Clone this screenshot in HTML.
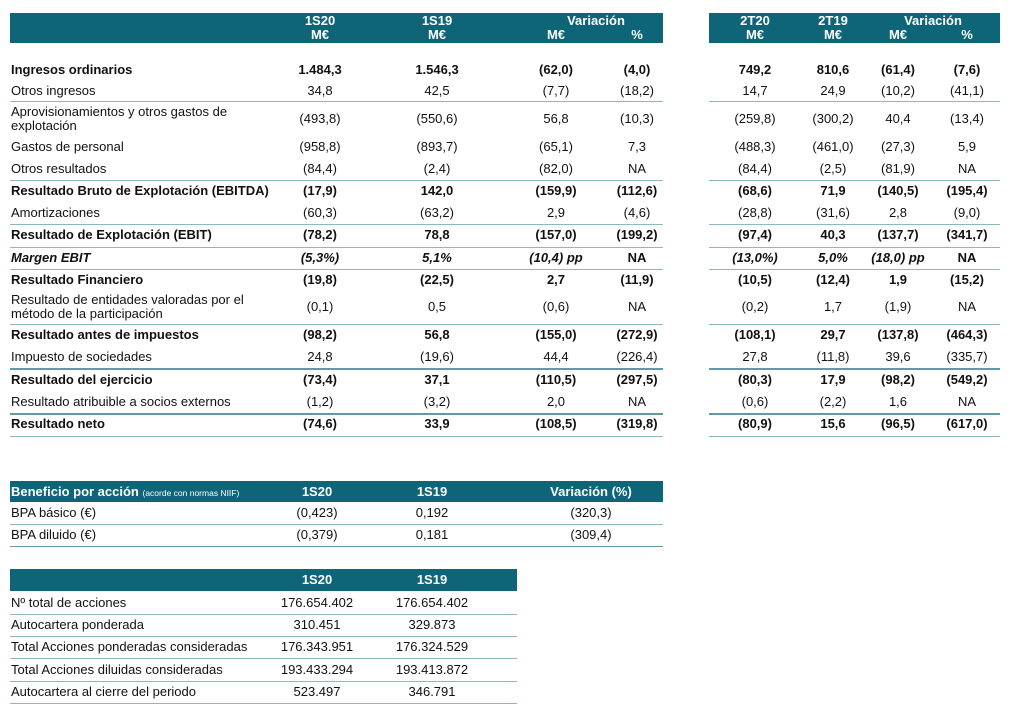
<!DOCTYPE html>
<html><head><meta charset="utf-8"><style>
body{margin:0;width:1011px;height:713px;background:#fff;font-family:"Liberation Sans",Arial,sans-serif;color:#111;position:relative;overflow:hidden}
.h{position:absolute;background:#0e6577;color:#fff;font-weight:bold;font-size:13px}
.t{position:absolute;font-size:13px;line-height:14px;white-space:nowrap}
.r{position:absolute;left:0;width:1011px;height:22px;line-height:22px;font-size:13px}
.r span{position:absolute;top:0;width:100px;text-align:center;white-space:nowrap}
.r .l{left:11px;width:auto;text-align:left}
.a{left:270px}.b{left:387px}.c{left:506px}.d{left:587px}.e{left:705px}.f{left:783px}.g{left:848px}.k{left:917px}
.B{font-weight:bold}.I{font-style:italic;font-weight:bold}
.ln{position:absolute;height:1px;background:#8fb7bf}
.tk{position:absolute;height:2px;background:#5f9aa6}
</style></head><body>
<div class="h" style="left:10px;top:13px;width:653px;height:30px"></div>
<div class="h" style="left:709px;top:13px;width:291px;height:30px"></div>
<div class="t" style="left:270px;top:14px;width:100px;text-align:center;color:#fff;font-weight:bold">1S20<br>M€</div>
<div class="t" style="left:387px;top:14px;width:100px;text-align:center;color:#fff;font-weight:bold">1S19<br>M€</div>
<div class="t" style="left:506px;top:14px;width:180px;text-align:center;color:#fff;font-weight:bold">Variación</div>
<div class="t" style="left:506px;top:28px;width:100px;text-align:center;color:#fff;font-weight:bold">M€</div>
<div class="t" style="left:587px;top:28px;width:100px;text-align:center;color:#fff;font-weight:bold">%</div>
<div class="t" style="left:705px;top:14px;width:100px;text-align:center;color:#fff;font-weight:bold">2T20<br>M€</div>
<div class="t" style="left:783px;top:14px;width:100px;text-align:center;color:#fff;font-weight:bold">2T19<br>M€</div>
<div class="t" style="left:848px;top:14px;width:170px;text-align:center;color:#fff;font-weight:bold">Variación</div>
<div class="t" style="left:848px;top:28px;width:100px;text-align:center;color:#fff;font-weight:bold">M€</div>
<div class="t" style="left:917px;top:28px;width:100px;text-align:center;color:#fff;font-weight:bold">%</div>

<div class="r B" style="top:59px"><span class="l">Ingresos ordinarios</span><span class="a">1.484,3</span><span class="b">1.546,3</span><span class="c">(62,0)</span><span class="d">(4,0)</span><span class="e">749,2</span><span class="f">810,6</span><span class="g">(61,4)</span><span class="k">(7,6)</span></div>
<div class="r" style="top:80px"><span class="l">Otros ingresos</span><span class="a">34,8</span><span class="b">42,5</span><span class="c">(7,7)</span><span class="d">(18,2)</span><span class="e">14,7</span><span class="f">24,9</span><span class="g">(10,2)</span><span class="k">(41,1)</span></div>
<div class="t" style="left:11px;top:105px">Aprovisionamientos y otros gastos de<br>explotación</div>
<div class="r" style="top:108px"><span class="a">(493,8)</span><span class="b">(550,6)</span><span class="c">56,8</span><span class="d">(10,3)</span><span class="e">(259,8)</span><span class="f">(300,2)</span><span class="g">40,4</span><span class="k">(13,4)</span></div>
<div class="r" style="top:136px"><span class="l">Gastos de personal</span><span class="a">(958,8)</span><span class="b">(893,7)</span><span class="c">(65,1)</span><span class="d">7,3</span><span class="e">(488,3)</span><span class="f">(461,0)</span><span class="g">(27,3)</span><span class="k">5,9</span></div>
<div class="r" style="top:158px"><span class="l">Otros resultados</span><span class="a">(84,4)</span><span class="b">(2,4)</span><span class="c">(82,0)</span><span class="d">NA</span><span class="e">(84,4)</span><span class="f">(2,5)</span><span class="g">(81,9)</span><span class="k">NA</span></div>
<div class="r B" style="top:180px"><span class="l">Resultado Bruto de Explotación (EBITDA)</span><span class="a">(17,9)</span><span class="b">142,0</span><span class="c">(159,9)</span><span class="d">(112,6)</span><span class="e">(68,6)</span><span class="f">71,9</span><span class="g">(140,5)</span><span class="k">(195,4)</span></div>
<div class="r" style="top:202px"><span class="l">Amortizaciones</span><span class="a">(60,3)</span><span class="b">(63,2)</span><span class="c">2,9</span><span class="d">(4,6)</span><span class="e">(28,8)</span><span class="f">(31,6)</span><span class="g">2,8</span><span class="k">(9,0)</span></div>
<div class="r B" style="top:224px"><span class="l">Resultado de Explotación (EBIT)</span><span class="a">(78,2)</span><span class="b">78,8</span><span class="c">(157,0)</span><span class="d">(199,2)</span><span class="e">(97,4)</span><span class="f">40,3</span><span class="g">(137,7)</span><span class="k">(341,7)</span></div>
<div class="r I" style="top:247px"><span class="l">Margen EBIT</span><span class="a">(5,3%)</span><span class="b">5,1%</span><span class="c">(10,4) pp</span><span class="d" style="font-style:normal">NA</span><span class="e">(13,0%)</span><span class="f">5,0%</span><span class="g">(18,0) pp</span><span class="k" style="font-style:normal">NA</span></div>
<div class="r B" style="top:269px"><span class="l">Resultado Financiero</span><span class="a">(19,8)</span><span class="b">(22,5)</span><span class="c">2,7</span><span class="d">(11,9)</span><span class="e">(10,5)</span><span class="f">(12,4)</span><span class="g">1,9</span><span class="k">(15,2)</span></div>
<div class="t" style="left:11px;top:293px">Resultado de entidades valoradas por el<br>método de la participación</div>
<div class="r" style="top:296px"><span class="a">(0,1)</span><span class="b">0,5</span><span class="c">(0,6)</span><span class="d">NA</span><span class="e">(0,2)</span><span class="f">1,7</span><span class="g">(1,9)</span><span class="k">NA</span></div>
<div class="r B" style="top:324px"><span class="l">Resultado antes de impuestos</span><span class="a">(98,2)</span><span class="b">56,8</span><span class="c">(155,0)</span><span class="d">(272,9)</span><span class="e">(108,1)</span><span class="f">29,7</span><span class="g">(137,8)</span><span class="k">(464,3)</span></div>
<div class="r" style="top:346px"><span class="l">Impuesto de sociedades</span><span class="a">24,8</span><span class="b">(19,6)</span><span class="c">44,4</span><span class="d">(226,4)</span><span class="e">27,8</span><span class="f">(11,8)</span><span class="g">39,6</span><span class="k">(335,7)</span></div>
<div class="r B" style="top:369px"><span class="l">Resultado del ejercicio</span><span class="a">(73,4)</span><span class="b">37,1</span><span class="c">(110,5)</span><span class="d">(297,5)</span><span class="e">(80,3)</span><span class="f">17,9</span><span class="g">(98,2)</span><span class="k">(549,2)</span></div>
<div class="r" style="top:391px"><span class="l">Resultado atribuible a socios externos</span><span class="a">(1,2)</span><span class="b">(3,2)</span><span class="c">2,0</span><span class="d">NA</span><span class="e">(0,6)</span><span class="f">(2,2)</span><span class="g">1,6</span><span class="k">NA</span></div>
<div class="r B" style="top:413px"><span class="l">Resultado neto</span><span class="a">(74,6)</span><span class="b">33,9</span><span class="c">(108,5)</span><span class="d">(319,8)</span><span class="e">(80,9)</span><span class="f">15,6</span><span class="g">(96,5)</span><span class="k">(617,0)</span></div>

<div class="ln" style="left:10px;width:653px;top:101px"></div><div class="ln" style="left:709px;width:291px;top:101px"></div>
<div class="ln" style="left:10px;width:653px;top:180px"></div><div class="ln" style="left:709px;width:291px;top:180px"></div>
<div class="ln" style="left:10px;width:653px;top:224px"></div><div class="ln" style="left:709px;width:291px;top:224px"></div>
<div class="ln" style="left:10px;width:653px;top:247px"></div><div class="ln" style="left:709px;width:291px;top:247px"></div>
<div class="ln" style="left:10px;width:653px;top:269px"></div><div class="ln" style="left:709px;width:291px;top:269px"></div>
<div class="ln" style="left:10px;width:653px;top:324px"></div><div class="ln" style="left:709px;width:291px;top:324px"></div>
<div class="tk" style="left:10px;width:653px;top:368px"></div><div class="tk" style="left:709px;width:291px;top:368px"></div>
<div class="tk" style="left:10px;width:653px;top:413px"></div><div class="tk" style="left:709px;width:291px;top:413px"></div>
<div class="ln" style="left:10px;width:653px;top:436px"></div><div class="ln" style="left:709px;width:291px;top:436px"></div>

<div class="h" style="left:10px;top:481px;width:653px;height:21px"></div>
<div class="t" style="left:11px;top:485px;color:#fff;font-weight:bold">Beneficio por acción <span style="font-size:8.5px;font-weight:normal">(acorde con normas NIIF)</span></div>
<div class="r B" style="top:481px;color:#fff;height:21px;line-height:21px"><span style="left:267px">1S20</span><span style="left:382px">1S19</span><span style="left:521px;width:140px">Variación (%)</span></div>
<div class="r" style="top:502px"><span class="l">BPA básico (€)</span><span style="left:267px">(0,423)</span><span style="left:382px">0,192</span><span style="left:541px">(320,3)</span></div>
<div class="r" style="top:524px"><span class="l">BPA diluido (€)</span><span style="left:267px">(0,379)</span><span style="left:382px">0,181</span><span style="left:541px">(309,4)</span></div>
<div class="ln" style="left:10px;width:653px;top:524px"></div>
<div class="tk" style="left:10px;width:653px;top:546px;height:1px"></div>

<div class="h" style="left:10px;top:569px;width:507px;height:22px"></div>
<div class="r B" style="top:569px;color:#fff"><span style="left:267px">1S20</span><span style="left:382px">1S19</span></div>
<div class="r" style="top:592px"><span class="l">Nº total de acciones</span><span style="left:267px">176.654.402</span><span style="left:382px">176.654.402</span></div>
<div class="r" style="top:614px"><span class="l">Autocartera ponderada</span><span style="left:267px">310.451</span><span style="left:382px">329.873</span></div>
<div class="r" style="top:636px"><span class="l">Total Acciones ponderadas consideradas</span><span style="left:267px">176.343.951</span><span style="left:382px">176.324.529</span></div>
<div class="r" style="top:659px"><span class="l">Total Acciones diluidas consideradas</span><span style="left:267px">193.433.294</span><span style="left:382px">193.413.872</span></div>
<div class="r" style="top:681px"><span class="l">Autocartera al cierre del periodo</span><span style="left:267px">523.497</span><span style="left:382px">346.791</span></div>
<div class="ln" style="left:10px;width:507px;top:614px"></div>
<div class="ln" style="left:10px;width:507px;top:636px"></div>
<div class="ln" style="left:10px;width:507px;top:658px"></div>
<div class="ln" style="left:10px;width:507px;top:681px"></div>
<div class="ln" style="left:10px;width:507px;top:703px"></div>
</body></html>
